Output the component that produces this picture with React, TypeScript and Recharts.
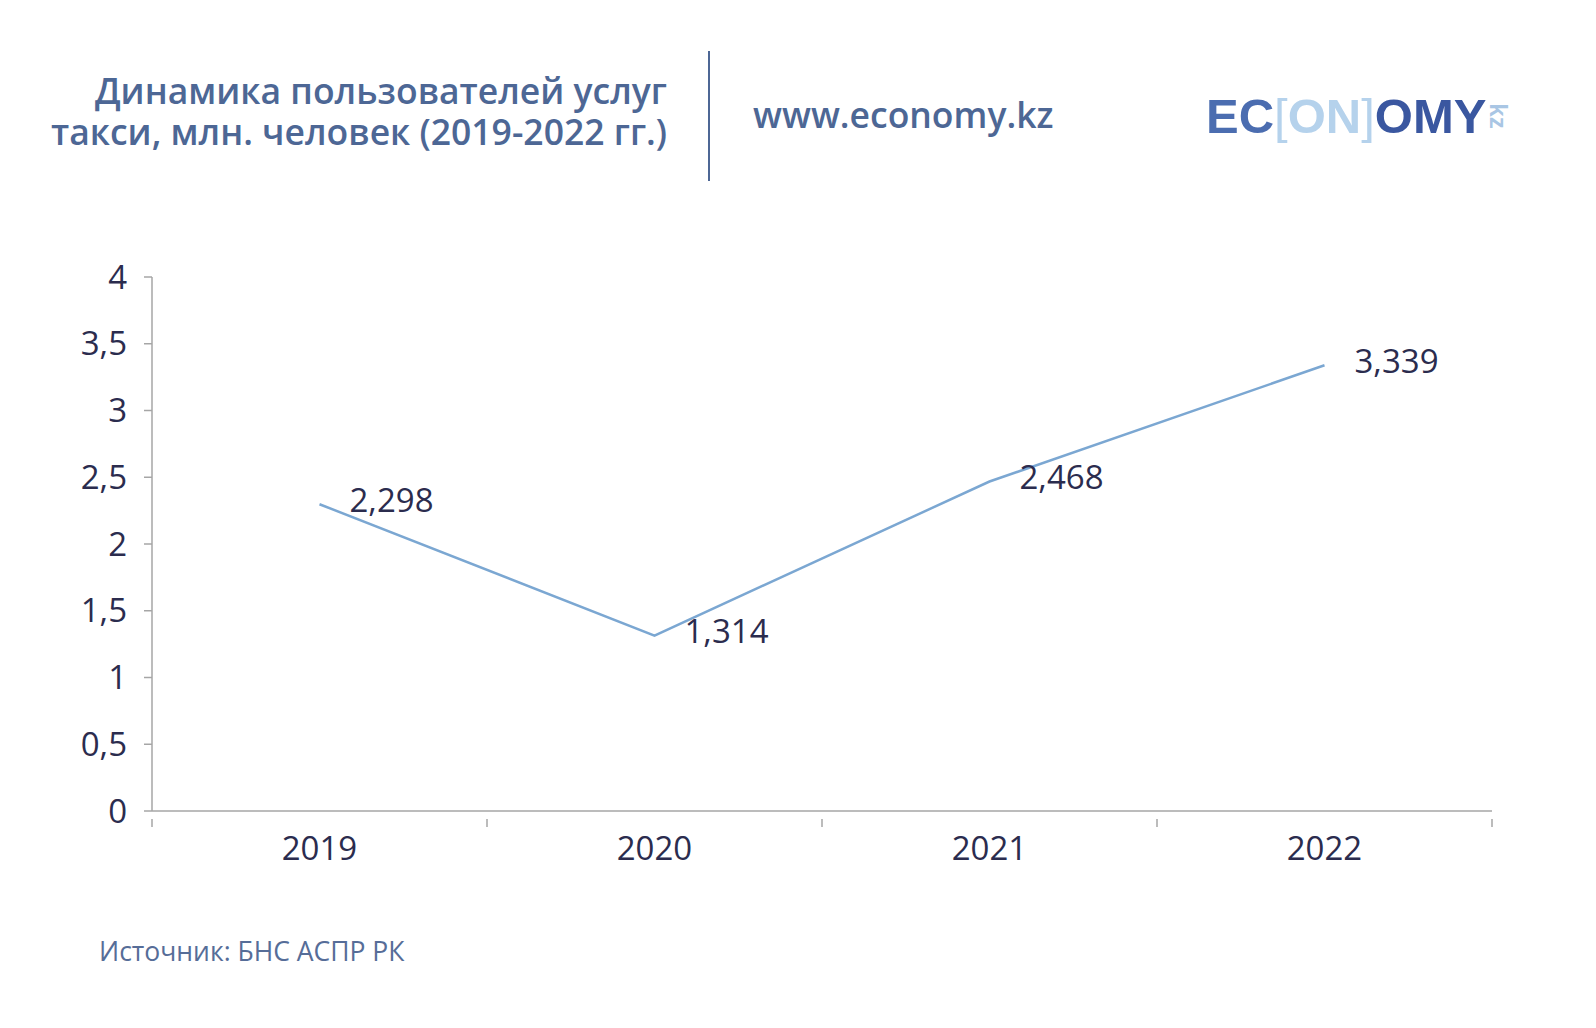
import { LineChart, Line, XAxis, YAxis, LabelList } from "recharts";

const years = ["2019", "2020", "2021", "2022"];
const users = [2.298, 1.314, 2.468, 3.339];
const yTicks = [0, 0.5, 1, 1.5, 2, 2.5, 3, 3.5, 4];
// band edges and band centres on a numeric axis, so tick marks sit between years
const xEdges = [-0.5, 0.5, 1.5, 2.5, 3.5];
const xCentres = [0, 1, 2, 3];

const data = years.map((year, i) => ({ idx: i, year, value: users[i] }));

const FONT = "'Open Sans', 'Noto Sans', sans-serif";
const INK = "#2b2c4e";
const HEAD = "#4d6795";
const AXIS = "#a6a6a6";

const fmt = (v: number, digits?: number) =>
  (digits !== undefined ? v.toFixed(digits) : String(v)).replace(".", ",");

const XTick = (props: any) => {
  const { x, y, payload } = props;
  const v = payload.value as number;
  if (Number.isInteger(v)) {
    return (
      <text x={x} y={y + 28} textAnchor="middle" dominantBaseline="central" fill={INK} fontSize={33} fontFamily={FONT}>
        {years[v]}
      </text>
    );
  }
  return <line x1={x} y1={y} x2={x} y2={y + 8} stroke={AXIS} strokeWidth={1.5} />;
};

const ValueLabel = (props: any) => {
  const { x, y, value } = props;
  return (
    <text x={x + 30} y={y - 5} dominantBaseline="central" fill={INK} fontSize={33} fontFamily={FONT}>
      {fmt(value, 3)}
    </text>
  );
};

export default function App() {
  return (
    <div
      style={{
        position: "relative",
        width: 1596,
        height: 1028,
        margin: -8,
        background: "#fff",
        fontFamily: FONT,
        overflow: "hidden",
      }}
    >
      <div
        style={{
          position: "absolute",
          top: 70,
          right: 929,
          width: 720,
          textAlign: "right",
          fontSize: 35.5,
          lineHeight: "41px",
          fontWeight: 600,
          color: HEAD,
          whiteSpace: "nowrap",
        }}
      >
        Динамика пользователей услуг
        <br />
        такси, млн. человек (2019-2022 гг.)
      </div>
      <div style={{ position: "absolute", left: 708, top: 51, width: 2, height: 130, background: HEAD }} />
      <div
        style={{
          position: "absolute",
          left: 753,
          top: 94,
          fontSize: 35.5,
          lineHeight: "40px",
          fontWeight: 600,
          color: HEAD,
        }}
      >
        www.economy.kz
      </div>
      <div
        style={{
          position: "absolute",
          left: 1206,
          top: 89,
          fontSize: 49,
          lineHeight: "54px",
          fontWeight: 700,
          fontFamily: "'Liberation Sans', Arial, sans-serif",
          whiteSpace: "nowrap",
        }}
      >
        <span style={{ color: "#4b6db0" }}>EC</span>
        <span style={{ color: "#b5d2ec", fontWeight: 400 }}>[</span>
        <span style={{ color: "#b5d2ec" }}>ON</span>
        <span style={{ color: "#b5d2ec", fontWeight: 400 }}>]</span>
        <span style={{ color: "#3a57a0" }}>OMY</span>
      </div>
      <div
        style={{
          position: "absolute",
          left: 1478,
          top: 104,
          width: 40,
          fontSize: 24,
          lineHeight: "24px",
          fontWeight: 700,
          color: "#a9c6e4",
          textAlign: "center",
          transform: "rotate(90deg)",
          transformOrigin: "20px 12px",
          fontFamily: "'Liberation Sans', Arial, sans-serif",
        }}
      >
        kz
      </div>

      <div style={{ position: "absolute", left: 0, top: 0 }}>
        <LineChart width={1596} height={1028} data={data} margin={{ top: 277, right: 104, bottom: 157, left: 92 }}>
          <XAxis
            dataKey="idx"
            type="number"
            domain={[-0.5, 3.5]}
            ticks={[...xEdges, ...xCentres].sort((a, b) => a - b)}
            interval={0}
            height={60}
            axisLine={{ stroke: AXIS, strokeWidth: 1.5 }}
            tickLine={false}
            tick={<XTick />}
          />
          <YAxis
            type="number"
            domain={[0, 4]}
            ticks={yTicks}
            interval={0}
            width={60}
            axisLine={{ stroke: AXIS, strokeWidth: 1.5 }}
            tickLine={{ stroke: AXIS, strokeWidth: 1.5 }}
            tickSize={8}
            tickMargin={17}
            tickFormatter={(v: number) => fmt(v)}
            tick={{ fill: INK, fontSize: 33, fontFamily: FONT }}
          />
          <Line
            type="linear"
            dataKey="value"
            stroke="#7ba7d2"
            strokeWidth={2.5}
            dot={false}
            activeDot={false}
            isAnimationActive={false}
          >
            <LabelList dataKey="value" content={<ValueLabel />} />
          </Line>
        </LineChart>
      </div>

      <div
        style={{
          position: "absolute",
          left: 99,
          top: 935,
          fontSize: 26.5,
          lineHeight: "32px",
          color: "#566d98",
        }}
      >
        Источник: БНС АСПР РК
      </div>
    </div>
  );
}
